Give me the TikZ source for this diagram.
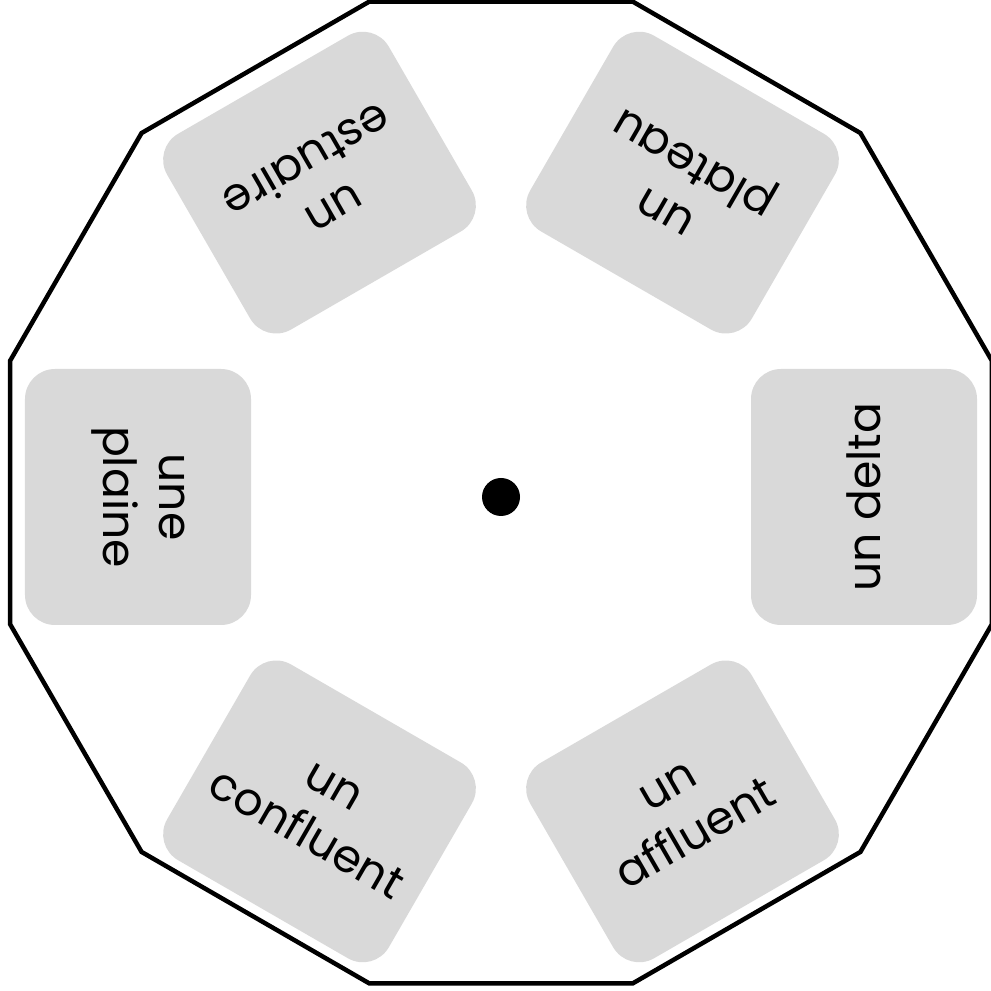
\documentclass[tikz,border=0pt]{standalone}
\usepackage{fontspec}
\setmainfont{Poppins}
\usetikzlibrary{positioning}

\begin{document}
\begin{tikzpicture}[
    rim/.style={line width=0.045cm, black},
    card/.style={shape=rectangle, rounded corners=0.3cm, fill=black!15,
                 minimum width=2.56cm, minimum height=2.26cm, align=center,
                 inner sep=0pt, font=\fontsize{13}{16}\selectfont}
  ]
      \useasboundingbox (-5.01,-4.94) rectangle (4.90,4.97);
      \coordinate (Centre) at (0,0);
      \coordinate (Rim)    at (0,0.045);

      % the twelve-sided wheel
      \begin{scope}[shift={(Rim)}]
            \draw [rim] (15:5.083) \foreach \a in {45,75,...,345} { -- (\a:5.083) } -- cycle;
      \end{scope}

      % the six cards, text turned towards the hub
      \node[card, rotate=90]  (delta)     at (0:3.63)   {un delta};
      \node[card, rotate=150] (plateau)   at (60:3.63)  {un\\plateau};
      \node[card, rotate=210] (estuaire)  at (120:3.63) {un\\estuaire};
      \node[card, rotate=270] (plaine)    at (180:3.63) {une\\plaine};
      \node[card, rotate=330] (confluent) at (240:3.63) {un\\confluent};
      \node[card, rotate=30]  (affluent)  at (300:3.63) {un\\affluent};

      \node[shape=circle, fill=black, minimum size=0.38cm, inner sep=0pt] (hub) at (Centre) {};
\end{tikzpicture}
\end{document}
